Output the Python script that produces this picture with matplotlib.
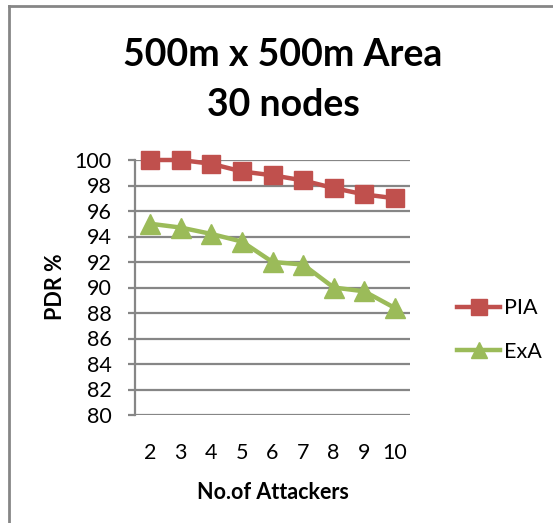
import matplotlib.pyplot as plt
from matplotlib.lines import Line2D

attackers = [2, 3, 4, 5, 6, 7, 8, 9, 10]
pia = [100.0, 100.0, 99.7, 99.1, 98.8, 98.4, 97.8, 97.3, 97.0]
exa = [95.0, 94.7, 94.2, 93.6, 92.0, 91.8, 90.0, 89.7, 88.4]
yTicks = list(range(80, 101, 2))

plt.rcParams["font.family"] = ["Lato", "DejaVu Sans"]

fig = plt.figure(figsize=(5.53, 5.23), dpi=100)
ax = fig.add_axes([135 / 553, 1 - 415 / 523, 275 / 553, 255 / 523])

ax.plot(attackers, pia, color="#c0504d", lw=3.2, marker="s", ms=13,
        markeredgecolor="#c0504d", label="PIA", zorder=3, clip_on=False)
ax.plot(attackers, exa, color="#9bbb59", lw=3.2, marker="^", ms=14,
        markeredgecolor="#9bbb59", label="ExA", zorder=3, clip_on=False)

ax.set_xlim(1.5, 10.5)
ax.set_ylim(80, 100)
ax.set_yticks(yTicks)
ax.set_xticks(attackers)
ax.yaxis.grid(True, color="#868686", lw=1.6)
ax.set_axisbelow(True)
for side in ("top", "right", "bottom"):
    ax.spines[side].set_visible(False)
ax.spines["left"].set_color("#868686")
ax.spines["left"].set_linewidth(1.6)
ax.tick_params(axis="y", length=5, color="#868686", width=1.6,
               labelsize=15.5, pad=12)
ax.tick_params(axis="x", length=0, labelsize=15.5, pad=20)

ax.set_xlabel("No.of Attackers", fontsize=15.5, fontweight="bold", labelpad=14)
fig.text(56 / 553, 1 - 287 / 523, "PDR %", fontsize=15.5, fontweight="bold",
         rotation=90, ha="center", va="center")

fig.text(283 / 553, 1 - 55 / 523, "500m x 500m Area", fontsize=27,
         fontweight="bold", ha="center", va="center")
fig.text(283 / 553, 1 - 105 / 523, "30 nodes", fontsize=27,
         fontweight="bold", ha="center", va="center")

handles = [
    Line2D([], [], color="#c0504d", lw=3.2, marker="s", ms=12),
    Line2D([], [], color="#9bbb59", lw=3.2, marker="^", ms=12),
]
fig.legend(handles, ["PIA", "ExA"], loc="center left",
           bbox_to_anchor=(438 / 553, 1 - 330 / 523), frameon=False,
           fontsize=15.5, handlelength=2.0, handletextpad=0.15,
           labelspacing=1.1)

# chart border (left and top edges are visible)
fig.add_artist(Line2D([9 / 553, 9 / 553], [0, 1 - 6 / 523],
                      transform=fig.transFigure, color="#868686", lw=2))
fig.add_artist(Line2D([9 / 553, 1], [1 - 6 / 523, 1 - 6 / 523],
                      transform=fig.transFigure, color="#868686", lw=2))

fig.savefig("out.png", dpi=100)
